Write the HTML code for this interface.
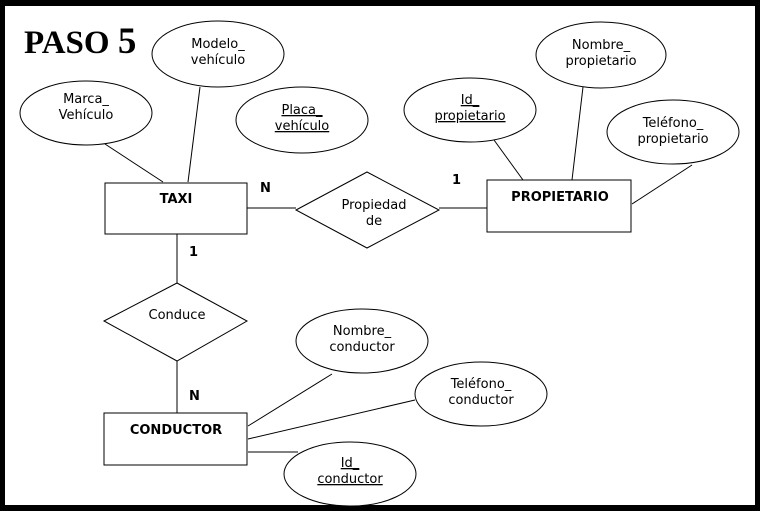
<!DOCTYPE html>
<html><head><meta charset="utf-8"><style>
html,body{margin:0;padding:0;background:#000;}
svg{display:block}
text{font-family:"DejaVu Sans","Liberation Sans",sans-serif;font-size:13px;fill:#000}
</style></head><body>
<svg width="760" height="511" xmlns="http://www.w3.org/2000/svg">
<rect x="0" y="0" width="760" height="511" fill="#000"/>
<rect x="5" y="6" width="750" height="499" fill="#fff"/>
<text x="24" y="53" style="font-family:'Liberation Serif',serif;font-size:33px;font-weight:bold">PASO <tspan style="font-size:37px">5</tspan></text>
<g stroke="#000" stroke-width="1" fill="none">
<line x1="105" y1="144" x2="163" y2="182"/>
<line x1="200" y1="87" x2="188" y2="182"/>
<line x1="247" y1="208" x2="296" y2="208"/>
<line x1="439" y1="208" x2="487" y2="208"/>
<line x1="494" y1="140" x2="523" y2="180"/>
<line x1="583" y1="87" x2="572" y2="180"/>
<line x1="692" y1="165" x2="632" y2="204"/>
<line x1="177" y1="234" x2="177" y2="283"/>
<line x1="177" y1="361" x2="177" y2="413"/>
<line x1="248" y1="426" x2="332" y2="374"/>
<line x1="248" y1="439" x2="415" y2="400"/>
<line x1="248" y1="452" x2="298" y2="452"/>
<rect x="105" y="183" width="142" height="51" fill="#fff"/>
<rect x="487" y="180" width="144" height="52" fill="#fff"/>
<rect x="104" y="413" width="143" height="52" fill="#fff"/>
<polygon points="296,210 367,172 439,210 367,248" fill="#fff"/>
<polygon points="104,321 177,283 247,321 177,361" fill="#fff"/>
<ellipse cx="86" cy="113" rx="66" ry="32" fill="#fff"/>
<ellipse cx="218" cy="54" rx="66" ry="33" fill="#fff"/>
<ellipse cx="302" cy="120" rx="66" ry="33" fill="#fff"/>
<ellipse cx="470" cy="110" rx="66" ry="32" fill="#fff"/>
<ellipse cx="601" cy="55" rx="65" ry="33" fill="#fff"/>
<ellipse cx="673" cy="132" rx="66" ry="32" fill="#fff"/>
<ellipse cx="362" cy="341" rx="66" ry="32" fill="#fff"/>
<ellipse cx="481" cy="394" rx="66" ry="32" fill="#fff"/>
<ellipse cx="350" cy="474" rx="66" ry="32" fill="#fff"/>
</g>
<g text-anchor="middle">
<text x="86" y="103">Marca_</text><text x="86" y="119">Vehículo</text>
<text x="218" y="48">Modelo_</text><text x="218" y="64">vehículo</text>
<text x="302" y="114" text-decoration="underline">Placa_</text><text x="302" y="130" text-decoration="underline">vehículo</text>
<text x="470" y="104" text-decoration="underline">Id_</text><text x="470" y="120" text-decoration="underline">propietario</text>
<text x="601" y="49">Nombre_</text><text x="601" y="65">propietario</text>
<text x="673" y="127">Teléfono_</text><text x="673" y="143">propietario</text>
<text x="374" y="209">Propiedad</text><text x="374" y="225">de</text>
<text x="177" y="319">Conduce</text>
<text x="362" y="335">Nombre_</text><text x="362" y="351">conductor</text>
<text x="481" y="388">Teléfono_</text><text x="481" y="404">conductor</text>
<text x="350" y="467" text-decoration="underline">Id_</text><text x="350" y="483" text-decoration="underline">conductor</text>
<g style="font-weight:bold">
<text x="176" y="203">TAXI</text>
<text x="560" y="201">PROPIETARIO</text>
<text x="176" y="434">CONDUCTOR</text>
</g>
</g>
<g style="font-weight:bold">
<text x="260" y="192">N</text>
<text x="452" y="184">1</text>
<text x="189" y="256">1</text>
<text x="189" y="400">N</text>
</g>
</svg>
</body></html>
